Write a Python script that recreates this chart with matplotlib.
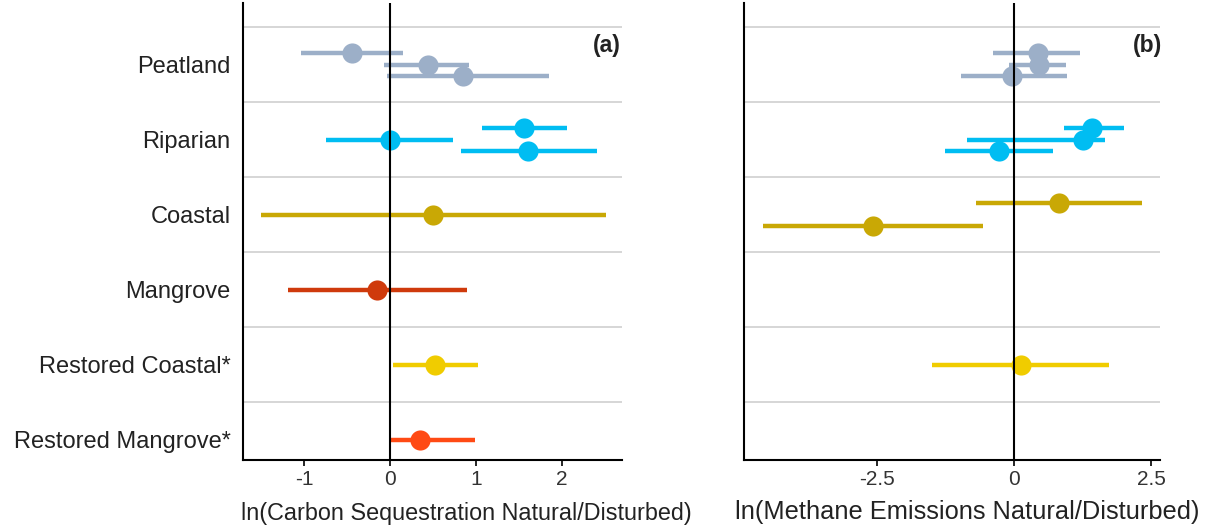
import matplotlib.pyplot as plt
import numpy as np

plt.rcParams['font.family'] = ['Liberation Sans', 'DejaVu Sans']

categories = ['Peatland', 'Riparian', 'Coastal', 'Mangrove',
              'Restored Coastal*', 'Restored Mangrove*']
colors = ['#9cafc8', '#00bdf2', '#c9a805', '#cf3a0c', '#f0cc00', '#ff4a14']

# carbon sequestration (a): category index, estimate, lower, upper
carbon_cat = [0, 0, 0, 1, 1, 1, 2, 3, 4, 5]
carbon_est = [-0.44, 0.44, 0.85, 1.56, 0.00, 1.61, 0.50, -0.15, 0.52, 0.35]
carbon_lo = [-1.03, -0.07, -0.04, 1.07, -0.74, 0.83, -1.50, -1.19, 0.04, 0.00]
carbon_hi = [0.15, 0.92, 1.85, 2.06, 0.73, 2.41, 2.51, 0.90, 1.02, 0.99]

# methane emissions (b)
methane_cat = [0, 0, 0, 1, 1, 1, 2, 2, 4]
methane_est = [0.44, 0.45, -0.05, 1.41, 1.26, -0.27, 0.82, -2.57, 0.13]
methane_lo = [-0.38, -0.10, -0.97, 0.91, -0.86, -1.26, -0.69, -4.58, -1.50]
methane_hi = [1.20, 0.95, 0.97, 2.00, 1.66, 0.71, 2.33, -0.58, 1.73]


def draw(ax, cat, est, lo, hi, xlim, xticks, xticklabels, xlabel, tag, lsize):
    cat = np.array(cat)
    for c in np.unique(cat):
        idx = np.where(cat == c)[0]
        offs = np.linspace(-0.155, 0.155, len(idx)) if len(idx) > 1 else [0.0]
        for i, o in zip(idx, offs):
            y = c + o
            ax.plot([lo[i], hi[i]], [y, y], color=colors[c], lw=3.2,
                    solid_capstyle='butt', zorder=3)
            ax.plot(est[i], y, 'o', color=colors[c], ms=14.5, mec='none', zorder=4)
    for g in np.arange(-0.5, 5, 1):
        ax.axhline(g, color='#cfcfcf', lw=1.2, zorder=1)
    ax.axvline(0, color='black', lw=1.5, zorder=5)
    ax.set_xlim(*xlim)
    ax.set_ylim(5.27, -0.82)
    ax.set_xticks(xticks)
    ax.set_xticklabels(xticklabels, fontsize=15, color='#333333')
    ax.set_xlabel(xlabel, fontsize=lsize, color='#222222')
    for s in ['top', 'right']:
        ax.spines[s].set_visible(False)
    for s in ['left', 'bottom']:
        ax.spines[s].set_linewidth(1.5)
    ax.tick_params(axis='x', length=4, width=1.2, pad=3)
    ax.tick_params(axis='y', length=0)
    ax.text(0.96 if tag == '(a)' else 0.969, 0.908, tag, transform=ax.transAxes,
            ha='center', va='center', fontsize=16.5, fontweight='bold', color='#222222')


fig = plt.figure(figsize=(12.14, 5.27), dpi=100)
ax1 = fig.add_axes([0.2002, 0.1271, 0.3122, 0.8672])
ax2 = fig.add_axes([0.6129, 0.1271, 0.3427, 0.8672])

draw(ax1, carbon_cat, carbon_est, carbon_lo, carbon_hi, (-1.71, 2.70),
     [-1, 0, 1, 2], ['-1', '0', '1', '2'],
     'ln(Carbon Sequestration Natural/Disturbed)', '(a)', 16.8)
draw(ax2, methane_cat, methane_est, methane_lo, methane_hi, (-4.93, 2.66),
     [-2.5, 0, 2.5], ['-2.5', '0', '2.5'],
     'ln(Methane Emissions Natural/Disturbed)', '(b)', 18.3)

ax1.set_yticks(range(len(categories)))
ax1.set_yticklabels(categories, fontsize=17, color='#222222')
ax1.tick_params(axis='y', pad=9)
ax2.set_yticks([])

ax1.xaxis.set_label_coords(0.59, -0.092)
ax2.xaxis.set_label_coords(0.537, -0.088)

fig.savefig('out.png', dpi=100)
